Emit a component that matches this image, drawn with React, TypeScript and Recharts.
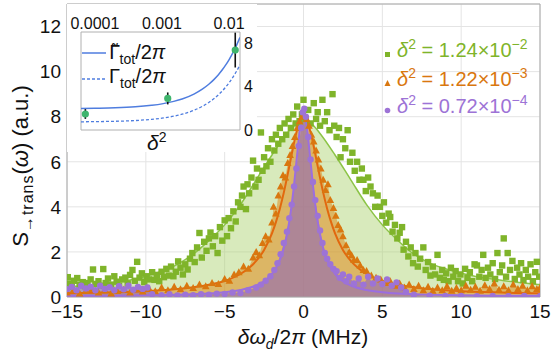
import React from 'react';
import { ComposedChart, Scatter, Line, Area, XAxis, YAxis, CartesianGrid, ReferenceArea, ErrorBar } from 'recharts';

const FONT = "'Liberation Sans', Arial, Helvetica, sans-serif";

const xTicks = [-15, -10, -5, 0, 5, 10, 15];
const yTicks = [0, 2, 4, 6, 8, 10, 12];
const xMinorTicks = [-14, -13, -12, -11, -9, -8, -7, -6, -4, -3, -2, -1, 1, 2, 3, 4, 6, 7, 8, 9, 11, 12, 13, 14];
const yMinorTicks = [0.5, 1, 1.5, 2.5, 3, 3.5, 4.5, 5, 5.5, 6.5, 7, 7.5, 8.5, 9, 9.5, 10.5, 11, 11.5, 12.5];

const GREEN = '#7fb42a';
const ORANGE = '#d9770f';
const PURPLE = '#9d73d6';

const greenPts: [number, number][] = [
  [-14.95, 0.88], [-14.85, 0.6], [-14.7, 0.45], [-14.55, 0.72], [-14.35, 0.84], [-14.2, 0.55], [-14.0, 0.66], [-13.85, 0.48],
  [-13.7, 0.62], [-13.5, 0.78], [-13.35, 1.22], [-13.2, 0.58], [-13.0, 0.7], [-12.85, 0.5], [-12.7, 1.24], [-12.55, 0.62],
  [-12.4, 0.82], [-12.2, 0.55], [-12.0, 0.92], [-11.85, 0.68], [-11.7, 0.5], [-11.5, 0.78], [-11.3, 0.86], [-11.15, 0.6],
  [-11.0, 0.98], [-10.85, 1.2], [-10.7, 0.72], [-10.55, 1.56], [-10.4, 0.86], [-10.25, 1.05], [-10.1, 0.66], [-9.95, 0.92],
  [-9.8, 0.78], [-9.6, 1.1], [-9.45, 0.76], [-9.3, 0.98], [-9.15, 0.7],
  [-9.0, 1.12], [-8.85, 0.88], [-8.7, 1.25], [-8.55, 0.95], [-8.4, 1.35], [-8.25, 0.92], [-8.1, 1.12], [-7.95, 1.58],
  [-7.8, 1.3], [-7.65, 1.0], [-7.5, 1.45], [-7.35, 1.22], [-7.2, 1.7], [-7.05, 1.95], [-6.9, 1.55], [-6.75, 2.2],
  [-6.6, 2.84], [-6.45, 1.75], [-6.3, 2.45], [-6.15, 2.05], [-6.0, 2.6], [-5.9, 2.86], [-5.75, 2.25], [-5.6, 2.7],
  [-5.45, 1.95], [-5.3, 3.1], [-5.15, 2.5], [-5.0, 3.4],
  [-4.85, 2.7], [-4.75, 3.5], [-4.6, 3.05], [-4.45, 3.8], [-4.3, 3.35], [-4.15, 4.2], [-4.0, 4.0], [-3.9, 4.5],
  [-3.8, 4.9], [-3.65, 3.9], [-3.55, 5.0], [-3.45, 4.6], [-3.3, 5.3], [-3.2, 6.05], [-3.05, 4.9], [-2.95, 5.7],
  [-2.85, 5.2], [-2.7, 7.3], [-2.6, 5.6], [-2.5, 6.2], [-2.35, 5.8], [-2.25, 6.6], [-2.1, 6.0], [-2.0, 7.0],
  [-1.85, 6.5], [-1.75, 7.2], [-1.6, 6.8], [-1.5, 7.5], [-1.35, 7.0], [-1.2, 7.7], [-1.1, 7.2],
  [-0.95, 7.9], [-0.8, 7.5], [-0.65, 8.1], [-0.5, 7.7], [-0.4, 8.45], [-0.25, 7.8], [-0.1, 8.1], [0.0, 8.75],
  [0.15, 7.9], [0.3, 8.3], [0.45, 7.7], [0.65, 8.6], [0.8, 7.9], [0.9, 8.2], [1.05, 7.6], [1.2, 8.75],
  [1.35, 7.8], [1.5, 8.2], [1.65, 7.4], [1.84, 9.0], [1.95, 7.6], [2.1, 7.1], [2.25, 7.5], [2.35, 6.2],
  [2.5, 7.0], [2.65, 6.6], [2.8, 7.4], [2.95, 6.0], [3.1, 6.4], [3.25, 5.6], [3.4, 6.0], [3.55, 5.2],
  [3.7, 5.7], [3.8, 5.2], [3.95, 4.7], [4.1, 5.3], [4.25, 4.9], [4.4, 4.6], [4.55, 4.0], [4.7, 4.5],
  [4.85, 4.0], [5.0, 3.6],
  [5.1, 4.2], [5.25, 3.3], [5.4, 3.7], [5.5, 3.55], [5.65, 2.9], [5.8, 3.2], [5.95, 2.6], [6.1, 2.85],
  [6.25, 3.1], [6.35, 2.1], [6.5, 2.45], [6.65, 1.8], [6.8, 2.2], [6.95, 1.5], [7.1, 1.95], [7.25, 1.35],
  [7.4, 1.7], [7.6, 2.2], [7.75, 1.2], [7.9, 1.55], [8.05, 0.95], [8.2, 1.35], [8.35, 1.0], [8.5, 1.87],
  [8.65, 0.85], [8.8, 1.2], [8.9, 0.76],
  [9.05, 1.05], [9.2, 0.7], [9.35, 1.3], [9.5, 0.9], [9.65, 1.15], [9.8, 0.7], [9.95, 1.0], [10.1, 0.6],
  [10.25, 1.25], [10.4, 0.85], [10.55, 1.1], [10.7, 0.7], [10.85, 1.45], [11.0, 1.4], [11.15, 0.9], [11.3, 1.2],
  [11.4, 1.87], [11.55, 0.85], [11.7, 1.3], [11.85, 1.0], [12.0, 1.5], [12.15, 0.8], [12.3, 1.95], [12.45, 1.1],
  [12.6, 1.4], [12.7, 2.6], [12.85, 0.9], [12.95, 1.95], [13.1, 1.2], [13.25, 1.6], [13.4, 0.8], [13.55, 1.3],
  [13.7, 1.0], [13.8, 1.5], [13.95, 0.75], [14.1, 1.2], [14.25, 0.9], [14.4, 1.45], [14.55, 0.7], [14.7, 1.1],
  [14.8, 1.56], [14.95, 0.9],
];

const orangePts: [number, number][] = [
  [-15, 0.2], [-14.6, 0.3], [-14.2, 0.15], [-13.8, 0.28], [-13.4, 0.35], [-13.0, 0.2], [-12.6, 0.3], [-12.2, 0.16],
  [-11.8, 0.27], [-11.4, 0.33], [-11.0, 0.2], [-10.6, 0.36], [-10.2, 0.24], [-9.8, 0.38], [-9.4, 0.26], [-9.0, 0.42],
  [-8.6, 0.3], [-8.2, 0.46], [-7.8, 0.34], [-7.4, 0.5], [-7.0, 0.4], [-6.6, 0.55], [-6.2, 0.48], [-5.8, 0.62],
  [-5.4, 0.58], [-5.0, 0.8], [-4.7, 0.72], [-4.4, 1.0], [-4.1, 1.1], [-3.8, 1.35], [-3.5, 1.25], [-3.2, 1.75],
  [-3.0, 2.0], [-2.8, 1.85], [-2.6, 2.4], [-2.4, 2.7], [-2.2, 2.55], [-2.0, 3.3], [-1.9, 4.0], [-1.75, 3.7],
  [-1.6, 4.5], [-1.45, 4.9], [-1.3, 5.4], [-1.15, 5.3], [-1.0, 5.95], [-0.85, 6.3], [-0.7, 6.7], [-0.55, 7.1],
  [-0.4, 7.5], [-0.25, 7.8], [-0.1, 8.0], [0.05, 8.1], [0.2, 7.9], [0.35, 7.6], [0.5, 7.2], [0.65, 6.9],
  [0.8, 6.5], [0.95, 6.1], [1.1, 5.7], [1.25, 5.2], [1.4, 4.75], [1.55, 5.0], [1.7, 4.3], [1.9, 3.95],
  [2.05, 3.6], [2.2, 3.2], [2.35, 3.0], [2.5, 2.7], [2.7, 2.3], [2.9, 2.0], [3.05, 1.85], [3.2, 1.64],
  [3.4, 1.64], [3.6, 1.4], [3.8, 1.2], [4.0, 1.15], [4.3, 0.95], [4.6, 0.85], [4.9, 0.78], [5.2, 0.62],
  [5.5, 0.7], [5.8, 0.5], [6.1, 0.6], [6.4, 0.42], [6.7, 0.55], [7.0, 0.35], [7.3, 0.5], [7.6, 0.3],
  [7.9, 0.45], [8.2, 0.28], [8.5, 0.42], [8.8, 0.3], [9.1, 0.48], [9.4, 0.28], [9.7, 0.4], [10.0, 0.3],
  [10.3, 0.5], [10.6, 0.32], [10.9, 0.45], [11.2, 0.28], [11.5, 0.52], [11.8, 0.35], [12.1, 0.6], [12.4, 0.32],
  [12.7, 0.48], [13.0, 0.3], [13.3, 0.55], [13.6, 0.35], [13.9, 0.5], [14.2, 0.3], [14.5, 0.48], [14.8, 0.35],
  [15, 0.42],
];

const purplePts: [number, number][] = [
  [-15, 0.35], [-14.7, 0.45], [-14.4, 0.3], [-14.1, 0.5], [-13.8, 0.38], [-13.5, 0.46], [-13.2, 0.3], [-12.9, 0.5],
  [-12.6, 0.36], [-12.3, 0.44], [-12.0, 0.3], [-11.7, 0.48], [-11.4, 0.34], [-11.1, 0.5], [-10.8, 0.32], [-10.5, 0.45],
  [-10.2, 0.36], [-9.9, 0.42], [-9.6, 0.12], [-9.0, 0.08], [-8.5, 0.12], [-8.0, 0.07], [-7.5, 0.1], [-7.0, 0.08],
  [-6.5, 0.12], [-6.0, 0.1], [-5.5, 0.15], [-5.0, 0.13], [-4.5, 0.2], [-4.0, 0.18], [-3.5, 0.3], [-3.0, 0.42],
  [-2.7, 0.55], [-2.4, 0.72], [-2.1, 0.92], [-1.85, 1.2], [-1.65, 1.5], [-1.45, 1.9], [-1.25, 2.4], [-1.05, 2.9],
  [-0.9, 3.5], [-0.75, 4.1], [-0.6, 4.9], [-0.45, 5.7], [-0.3, 6.7], [-0.15, 7.5], [-0.05, 8.2], [0.05, 8.35],
  [0.15, 8.0], [0.3, 7.1], [0.45, 6.1], [0.6, 5.1], [0.75, 4.3], [0.9, 3.6], [1.05, 2.95], [1.2, 2.4],
  [1.35, 1.95], [1.5, 1.7], [1.7, 1.45], [1.9, 1.25], [2.1, 1.15], [2.3, 0.85], [2.5, 1.0], [2.7, 0.7],
  [2.9, 0.9], [3.2, 0.6], [3.5, 0.82], [3.8, 0.55], [4.1, 0.9], [4.4, 0.6], [4.7, 0.82], [5.0, 0.58],
  [5.3, 0.78], [5.6, 0.5], [5.9, 0.65], [6.2, 0.42], [6.5, 0.22], [7.0, 0.1], [8.0, 0.06], [9.0, 0.05],
  [10.0, 0.05], [11.0, 0.04], [12.0, 0.05], [13.0, 0.04], [14.0, 0.05], [15, 0.04],
];

const greenFit: [number, number][] = [
  [-15, 0.45], [-14, 0.5], [-13, 0.55], [-12, 0.64], [-11, 0.75], [-10, 0.92], [-9, 1.15], [-8, 1.45],
  [-7, 1.9], [-6, 2.5], [-5, 3.2], [-4, 4.1], [-3, 5.2], [-2, 6.3], [-1, 7.3], [-0.5, 7.7],
  [0, 7.9], [0.5, 7.7], [1, 7.3], [2, 6.3], [3, 5.2], [4, 4.1], [5, 3.2], [6, 2.5],
  [7, 1.9], [8, 1.5], [9, 1.25], [10, 1.05], [11, 0.9], [12, 0.8], [13, 0.7], [14, 0.62], [15, 0.55],
];

const orangeFit: [number, number][] = [
  [-15, 0.17], [-12, 0.21], [-10, 0.26], [-8, 0.35], [-7, 0.43], [-6, 0.54], [-5, 0.71], [-4, 1.02],
  [-3.5, 1.26], [-3, 1.6], [-2.5, 2.09], [-2, 2.82], [-1.75, 3.32], [-1.5, 3.92], [-1.25, 4.63], [-1, 5.45],
  [-0.75, 6.33], [-0.5, 7.16], [-0.25, 7.77], [0, 8.0], [0.25, 7.77], [0.5, 7.16], [0.75, 6.33], [1, 5.45],
  [1.25, 4.63], [1.5, 3.92], [1.75, 3.32], [2, 2.82], [2.5, 2.09], [3, 1.6], [3.5, 1.26], [4, 1.02],
  [5, 0.71], [6, 0.54], [7, 0.43], [8, 0.35], [10, 0.26], [12, 0.21], [15, 0.17],
];

const purpleFit: [number, number][] = [
  [-15, 0.05], [-12, 0.06], [-10, 0.075], [-8, 0.1], [-6, 0.15], [-5, 0.21], [-4, 0.31], [-3, 0.51],
  [-2.5, 0.7], [-2, 1.03], [-1.5, 1.65], [-1.25, 2.17], [-1, 2.95], [-0.8, 3.82], [-0.6, 4.97], [-0.4, 6.34],
  [-0.2, 7.59], [0, 8.13], [0.2, 7.59], [0.4, 6.34], [0.6, 4.97], [0.8, 3.82], [1, 2.95], [1.25, 2.17],
  [1.5, 1.65], [2, 1.03], [2.5, 0.7], [3, 0.51], [4, 0.31], [5, 0.21], [6, 0.15], [8, 0.1],
  [10, 0.075], [12, 0.06], [15, 0.05],
];

const legendMantissa = ['1.24', '1.22', '0.72'];
const legendExponent = ['\u22122', '\u22123', '\u22124'];

const insetXTicks = [0.0001, 0.001, 0.01];
const insetXMinorTicks = [
  7e-5, 8e-5, 9e-5, 2e-4, 3e-4, 4e-4, 5e-4, 6e-4, 7e-4, 8e-4, 9e-4,
  2e-3, 3e-3, 4e-3, 5e-3, 6e-3, 7e-3, 8e-3, 9e-3,
];
const insetYTicks = [0, 2, 4, 6, 8];
const insetDelta2 = [0.72e-4, 1.22e-3, 1.24e-2];
const insetGamma = [1.47, 2.9, 7.34];
const insetErr = [0.45, 0.55, 1.6];

const gammaTildeCurve: [number, number][] = [
  [6.2e-5, 1.98], [1e-4, 2.0], [2e-4, 2.04], [4e-4, 2.13], [7e-4, 2.27], [1e-3, 2.4], [1.5e-3, 2.63],
  [2e-3, 2.85], [3e-3, 3.3], [4e-3, 3.75], [5e-3, 4.2], [6e-3, 4.65], [7e-3, 5.1], [8e-3, 5.55],
  [9e-3, 6.0], [1e-2, 6.45], [1.1e-2, 6.9], [1.2e-2, 7.35], [1.3e-2, 7.8], [1.4e-2, 8.25], [1.46e-2, 8.52],
];
const gammaCurve: [number, number][] = [
  [6.2e-5, 0.75], [1e-4, 0.77], [2e-4, 0.8], [4e-4, 0.87], [7e-4, 0.98], [1e-3, 1.09], [1.5e-3, 1.27],
  [2e-3, 1.45], [3e-3, 1.81], [4e-3, 2.17], [5e-3, 2.53], [6e-3, 2.89], [7e-3, 3.25], [8e-3, 3.61],
  [9e-3, 3.97], [1e-2, 4.33], [1.1e-2, 4.69], [1.2e-2, 5.05], [1.3e-2, 5.41], [1.4e-2, 5.77], [1.46e-2, 5.99],
];

const toXY = (a: [number, number][]) => a.map(([x, y]) => ({ x, y }));
const greenData = toXY(greenPts);
const orangeData = toXY(orangePts);
const purpleData = toXY(purplePts);
const greenFitData = toXY(greenFit);
const orangeFitData = toXY(orangeFit);
const purpleFitData = toXY(purpleFit);
const insetData = insetDelta2.map((x, i) => ({ x, y: insetGamma[i], err: insetErr[i] }));
const tildeData = toXY(gammaTildeCurve);
const gammaData = toXY(gammaCurve);

const fmtMinus = (v: number) => (v < 0 ? '\u2212' + Math.abs(v) : String(v));

const Square = (p: any) => <rect x={p.cx - 3.2} y={p.cy - 3.2} width={6.4} height={6.4} fill={GREEN} />;
const Tri = (p: any) => (
  <polygon points={`${p.cx},${p.cy - 4} ${p.cx - 3.8},${p.cy + 3} ${p.cx + 3.8},${p.cy + 3}`} fill={ORANGE} />
);
const Dot = (p: any) => <circle cx={p.cx} cy={p.cy} r={3.2} fill={PURPLE} />;
const InsetDot = (p: any) => <circle cx={p.cx} cy={p.cy} r={3.6} fill="#3fb56d" />;

const tickStyle = { fontSize: 19, fill: '#111', fontFamily: FONT };
const minorLine = { stroke: '#a8a8a8', strokeWidth: 1 };

export default function App() {
  return (
    <div style={{ position: 'absolute', left: 0, top: 0, width: 553, height: 355, background: '#fff', fontFamily: FONT }}>
      <ComposedChart width={553} height={355} margin={{ top: 4, right: 13, bottom: 28, left: 17 }}>
        <CartesianGrid stroke="#e4e4e4" />
        <XAxis
          type="number"
          dataKey="x"
          domain={[-15, 15]}
          ticks={xTicks}
          allowDataOverflow
          height={30}
          tickSize={0}
          tickMargin={8}
          axisLine={false}
          tickLine={false}
          tick={tickStyle}
          tickFormatter={fmtMinus}
        />
        <XAxis xAxisId="minB" type="number" dataKey="x" domain={[-15, 15]} ticks={xMinorTicks} allowDataOverflow mirror height={0} tickSize={3} axisLine={false} tickLine={minorLine} tick={false} />
        <XAxis xAxisId="minT" orientation="top" type="number" dataKey="x" domain={[-15, 15]} ticks={xMinorTicks} allowDataOverflow mirror height={0} tickSize={3} axisLine={false} tickLine={minorLine} tick={false} />
        <XAxis xAxisId="majB" type="number" dataKey="x" domain={[-15, 15]} ticks={xTicks} allowDataOverflow mirror height={0} tickSize={6} axisLine={false} tickLine={minorLine} tick={false} />
        <XAxis xAxisId="majT" orientation="top" type="number" dataKey="x" domain={[-15, 15]} ticks={xTicks} allowDataOverflow mirror height={0} tickSize={6} axisLine={false} tickLine={minorLine} tick={false} />
        <YAxis
          type="number"
          dataKey="y"
          domain={[0, 13]}
          ticks={yTicks}
          allowDataOverflow
          width={50}
          tickSize={0}
          tickMargin={6}
          axisLine={false}
          tickLine={false}
          tick={tickStyle}
        />
        <YAxis yAxisId="minL" type="number" dataKey="y" domain={[0, 13]} ticks={yMinorTicks} allowDataOverflow mirror width={0} tickSize={3} axisLine={false} tickLine={minorLine} tick={false} />
        <YAxis yAxisId="minR" orientation="right" type="number" dataKey="y" domain={[0, 13]} ticks={yMinorTicks} allowDataOverflow mirror width={0} tickSize={3} axisLine={false} tickLine={minorLine} tick={false} />
        <YAxis yAxisId="majL" type="number" dataKey="y" domain={[0, 13]} ticks={yTicks} allowDataOverflow mirror width={0} tickSize={6} axisLine={false} tickLine={minorLine} tick={false} />
        <YAxis yAxisId="majR" orientation="right" type="number" dataKey="y" domain={[0, 13]} ticks={yTicks} allowDataOverflow mirror width={0} tickSize={6} axisLine={false} tickLine={minorLine} tick={false} />
        <Area data={greenFitData} dataKey="y" type="monotone" stroke="none" fill="#a9d06a" fillOpacity={0.45} isAnimationActive={false} />
        <Area data={orangeData} dataKey="y" type="linear" stroke="none" fill="#e08a1e" fillOpacity={0.55} isAnimationActive={false} />
        <Area data={purpleData} dataKey="y" type="linear" stroke="none" fill="#8f66b8" fillOpacity={0.6} isAnimationActive={false} />
        <Scatter data={greenData} dataKey="y" shape={Square} isAnimationActive={false} />
        <Scatter data={orangeData} dataKey="y" shape={Tri} isAnimationActive={false} />
        <Scatter data={purpleData} dataKey="y" shape={Dot} isAnimationActive={false} />
        <Line data={greenFitData} dataKey="y" type="monotone" stroke="#8cc447" strokeWidth={1.5} dot={false} isAnimationActive={false} />
        <Line data={orangeFitData} dataKey="y" type="monotone" stroke="#e2680e" strokeWidth={2} dot={false} isAnimationActive={false} />
        <Line data={purpleFitData} dataKey="y" type="monotone" stroke="#9b6ee0" strokeWidth={2} dot={false} isAnimationActive={false} />
        <ReferenceArea x1={-15} x2={15} y1={0} y2={13} fill="none" stroke="#a8a8a8" strokeWidth={1} />
      </ComposedChart>

      <div style={{ position: 'absolute', left: 67, top: 4, width: 190, height: 148, background: '#fff' }}>
        <ComposedChart width={190} height={148} margin={{ top: 8, right: 0, bottom: 22, left: 14 }}>
          <XAxis
            type="number"
            dataKey="x"
            scale="log"
            domain={[6.2e-5, 0.0146]}
            ticks={insetXTicks}
            orientation="top"
            allowDataOverflow
            height={20}
            tickSize={0}
            tickMargin={3}
            axisLine={false}
            tickLine={false}
            tick={{ fontSize: 16, fill: '#111', fontFamily: FONT }}
            tickFormatter={(v: number) => String(v)}
          />
          <XAxis xAxisId="imT" orientation="top" type="number" dataKey="x" scale="log" domain={[6.2e-5, 0.0146]} ticks={insetXMinorTicks} allowDataOverflow mirror height={0} tickSize={2.5} axisLine={false} tickLine={minorLine} tick={false} />
          <XAxis xAxisId="imB" type="number" dataKey="x" scale="log" domain={[6.2e-5, 0.0146]} ticks={insetXMinorTicks} allowDataOverflow mirror height={0} tickSize={2.5} axisLine={false} tickLine={minorLine} tick={false} />
          <XAxis xAxisId="iMT" orientation="top" type="number" dataKey="x" scale="log" domain={[6.2e-5, 0.0146]} ticks={insetXTicks} allowDataOverflow mirror height={0} tickSize={5} axisLine={false} tickLine={minorLine} tick={false} />
          <XAxis xAxisId="iMB" type="number" dataKey="x" scale="log" domain={[6.2e-5, 0.0146]} ticks={insetXTicks} allowDataOverflow mirror height={0} tickSize={5} axisLine={false} tickLine={minorLine} tick={false} />
          <YAxis
            type="number"
            dataKey="y"
            orientation="right"
            domain={[0, 9]}
            ticks={insetYTicks}
            allowDataOverflow
            width={17}
            tickSize={0}
            tickMargin={4}
            axisLine={false}
            tickLine={false}
            tick={{ fontSize: 16, fill: '#111', fontFamily: FONT, textAnchor: 'start' }}
          />
          <YAxis yAxisId="iR" orientation="right" type="number" dataKey="y" domain={[0, 9]} ticks={insetYTicks} allowDataOverflow mirror width={0} tickSize={4} axisLine={false} tickLine={minorLine} tick={false} />
          <Line data={tildeData} dataKey="y" type="monotone" stroke="#4f7ddf" strokeWidth={1.5} dot={false} isAnimationActive={false} />
          <Line data={gammaData} dataKey="y" type="monotone" stroke="#4f7ddf" strokeWidth={1.3} strokeDasharray="3 2" dot={false} isAnimationActive={false} />
          <Scatter data={insetData} dataKey="y" shape={InsetDot} isAnimationActive={false}>
            <ErrorBar dataKey="err" direction="y" width={0} stroke="#111" strokeWidth={1.6} />
          </Scatter>
          <ReferenceArea x1={6.2e-5} x2={0.0146} y1={0} y2={9} fill="none" stroke="#b0b0b0" strokeWidth={1} />
        </ComposedChart>
      </div>

      <svg width={553} height={355} style={{ position: 'absolute', left: 0, top: 0, pointerEvents: 'none' }} fontFamily={FONT}>
        {/* inset legend */}
        <line x1={82} y1={53} x2={106} y2={53} stroke="#4f7ddf" strokeWidth={1.5} />
        <text x={109} y={59} fontSize={20} fill="#111">
          <tspan fontFamily="'DejaVu Sans', sans-serif" fontSize={19}>{'\u0393\u0303'}</tspan>
          <tspan dy={5} fontSize={14}>tot</tspan>
          <tspan dy={-5}>/2</tspan>
          <tspan fontStyle="italic">{'\u03c0'}</tspan>
        </text>
        <line x1={82} y1={79} x2={106} y2={79} stroke="#4f7ddf" strokeWidth={1.3} strokeDasharray="3 2" />
        <text x={109} y={83} fontSize={20} fill="#111">
          <tspan>{'\u0393'}</tspan>
          <tspan dy={5} fontSize={14}>tot</tspan>
          <tspan dy={-5}>/2</tspan>
          <tspan fontStyle="italic">{'\u03c0'}</tspan>
        </text>
        <text x={147} y={150} fontSize={21} fill="#111">
          <tspan fontStyle="italic">{'\u03b4'}</tspan>
          <tspan dy={-8} fontSize={14}>2</tspan>
        </text>

        {/* main legend */}
        {legendMantissa.map((m, i) => {
          const base = [57, 86, 113][i];
          const col = [GREEN, ORANGE, PURPLE][i];
          return (
            <g key={i}>
              {i === 0 && <rect x={385} y={base - 5} width={5} height={5} fill={GREEN} />}
              {i === 1 && <polygon points={`387.5,${base - 6} 384.5,${base} 390.5,${base}`} fill={ORANGE} />}
              {i === 2 && <circle cx={387.5} cy={base - 2.5} r={2.8} fill={PURPLE} />}
              <text x={397} y={base} fontSize={20} fill={col}>
                <tspan fontStyle="italic">{'\u03b4'}</tspan>
                <tspan dy={-8} fontSize={14}>2</tspan>
                <tspan dy={8}>{` = ${m}\u00d710`}</tspan>
                <tspan dy={-8} fontSize={14}>{legendExponent[i]}</tspan>
              </text>
            </g>
          );
        })}

        {/* axis labels */}
        <text x={303} y={344} fontSize={21} fill="#111" textAnchor="middle">
          <tspan fontStyle="italic">{'\u03b4\u03c9'}</tspan>
          <tspan dy={5} fontSize={14} fontStyle="italic">d</tspan>
          <tspan dy={-5}>/2</tspan>
          <tspan fontStyle="italic">{'\u03c0'}</tspan>
          <tspan>{' (MHz)'}</tspan>
        </text>
        <text x={28} y={166} fontSize={22} fill="#111" textAnchor="middle" transform="rotate(-90 28 166)">
          <tspan>S</tspan>
          <tspan dy={5} fontSize={16} letterSpacing={1}>{'\u2192trans'}</tspan>
          <tspan dy={-5}>(</tspan>
          <tspan fontStyle="italic">{'\u03c9'}</tspan>
          <tspan>{') (a.u.)'}</tspan>
        </text>
      </svg>
    </div>
  );
}
